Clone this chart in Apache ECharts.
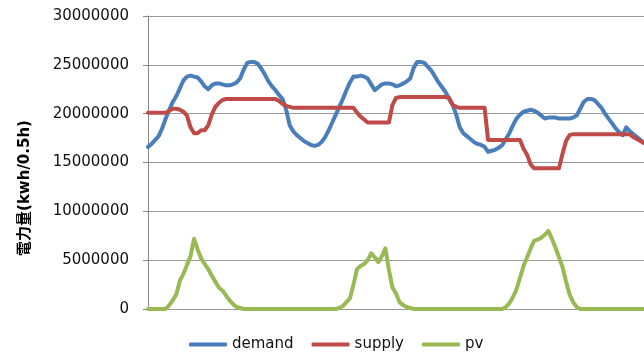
<!DOCTYPE html>
<html>
<head>
<meta charset="utf-8">
<script src="https://cdn.jsdelivr.net/npm/echarts@6/dist/echarts.min.js"></script>
<style>html,body{margin:0;padding:0;background:#fff;}#c{width:644px;height:354px;}</style>
</head>
<body>
<div id="c"></div>
<script>
const seriesNames = ['demand', 'supply', 'pv'];
const yTicks = [0, 5000000, 10000000, 15000000, 20000000, 25000000, 30000000];
const yTitle = '電力量(kwh/0.5h)';

const demand = [
 16.6e6,16.9e6,17.3e6,17.7e6,18.5e6,19.5e6,20.4e6,21.2e6,21.8e6,22.6e6,
 23.4e6,23.8e6,23.9e6,23.8e6,23.7e6,23.3e6,22.8e6,22.5e6,22.9e6,23.1e6,
 23.1e6,23.0e6,22.9e6,22.9e6,23.0e6,23.2e6,23.6e6,24.5e6,25.2e6,25.3e6,
 25.3e6,25.1e6,24.6e6,24.0e6,23.3e6,22.8e6,22.4e6,21.9e6,21.5e6,20.4e6,
 18.8e6,18.2e6,17.8e6,17.5e6,17.2e6,17.0e6,16.8e6,16.7e6,16.8e6,17.1e6,
 17.6e6,18.3e6,19.1e6,19.9e6,20.7e6,21.5e6,22.4e6,23.2e6,23.8e6,23.8e6,
 23.9e6,23.8e6,23.6e6,23.0e6,22.4e6,22.7e6,23.0e6,23.1e6,23.1e6,23.0e6,
 22.8e6,22.9e6,23.1e6,23.3e6,23.6e6,24.7e6,25.3e6,25.3e6,25.2e6,24.8e6,
 24.4e6,23.8e6,23.2e6,22.7e6,22.2e6,21.5e6,20.9e6,19.9e6,18.6e6,18.0e6,
 17.7e6,17.4e6,17.1e6,16.9e6,16.8e6,16.6e6,16.1e6,16.2e6,16.3e6,16.5e6,
 16.8e6,17.4e6,18.0e6,18.8e6,19.5e6,19.9e6,20.2e6,20.3e6,20.4e6,20.3e6,
 20.1e6,19.8e6,19.5e6,19.6e6,19.6e6,19.6e6,19.5e6,19.5e6,19.5e6,19.5e6,
 19.6e6,19.8e6,20.5e6,21.2e6,21.5e6,21.5e6,21.4e6,21.0e6,20.6e6,20.0e6,
 19.5e6,19.0e6,18.5e6,18.1e6,17.8e6,18.6e6,18.2e6,17.9e6,17.6e6,17.3e6,
 17.0e6
];

const supply = [
 20.1e6,20.1e6,20.1e6,20.1e6,20.1e6,20.1e6,20.3e6,20.5e6,20.5e6,20.4e6,
 20.2e6,19.8e6,18.6e6,18.0e6,18.0e6,18.3e6,18.3e6,18.8e6,19.9e6,20.7e6,
 21.1e6,21.4e6,21.5e6,21.5e6,21.5e6,21.5e6,21.5e6,21.5e6,21.5e6,21.5e6,
 21.5e6,21.5e6,21.5e6,21.5e6,21.5e6,21.5e6,21.5e6,21.3e6,21.0e6,20.8e6,
 20.7e6,20.6e6,20.6e6,20.6e6,20.6e6,20.6e6,20.6e6,20.6e6,20.6e6,20.6e6,
 20.6e6,20.6e6,20.6e6,20.6e6,20.6e6,20.6e6,20.6e6,20.6e6,20.6e6,20.1e6,
 19.7e6,19.4e6,19.1e6,19.1e6,19.1e6,19.1e6,19.1e6,19.1e6,19.1e6,20.9e6,
 21.6e6,21.7e6,21.7e6,21.7e6,21.7e6,21.7e6,21.7e6,21.7e6,21.7e6,21.7e6,
 21.7e6,21.7e6,21.7e6,21.7e6,21.7e6,21.6e6,20.9e6,20.7e6,20.6e6,20.6e6,
 20.6e6,20.6e6,20.6e6,20.6e6,20.6e6,20.6e6,17.3e6,17.3e6,17.3e6,17.3e6,
 17.3e6,17.3e6,17.3e6,17.3e6,17.3e6,17.3e6,16.4e6,15.8e6,14.8e6,14.4e6,
 14.4e6,14.4e6,14.4e6,14.4e6,14.4e6,14.4e6,14.4e6,15.9e6,17.2e6,17.8e6,
 17.9e6,17.9e6,17.9e6,17.9e6,17.9e6,17.9e6,17.9e6,17.9e6,17.9e6,17.9e6,
 17.9e6,17.9e6,17.9e6,17.9e6,17.9e6,17.9e6,17.9e6,17.6e6,17.4e6,17.2e6,
 17.0e6
];

const pv = [
 0,0,0,0,0,0,0.4e6,0.9e6,1.5e6,2.9e6,
 3.6e6,4.5e6,5.4e6,7.2e6,6.1e6,5.2e6,4.6e6,4.1e6,3.4e6,2.8e6,
 2.2e6,1.9e6,1.4e6,0.9e6,0.5e6,0.2e6,0.1e6,0,0,0,
 0,0,0,0,0,0,0,0,0,0,
 0,0,0,0,0,0,0,0,0,0,
 0,0,0,0,0.1e6,0.3e6,0.7e6,1.1e6,2.5e6,4.1e6,
 4.4e6,4.6e6,5.0e6,5.7e6,5.3e6,4.8e6,5.4e6,6.2e6,4.0e6,2.2e6,
 1.6e6,0.7e6,0.4e6,0.2e6,0.1e6,0,0,0,0,0,
 0,0,0,0,0,0,0,0,0,0,
 0,0,0,0,0,0,0,0,0,0,
 0,0.2e6,0.6e6,1.2e6,2.0e6,3.2e6,4.4e6,5.3e6,6.2e6,7.0e6,
 7.1e6,7.3e6,7.6e6,8.0e6,7.2e6,6.3e6,5.3e6,4.3e6,2.8e6,1.5e6,
 0.7e6,0.2e6,0,0,0,0,0,0,0,0,
 0,0,0,0,0,0,0,0,0,0,
 0
];

const colors = ['#4A7EBB', '#BE4B48', '#98B954'];
const chart = echarts.init(document.getElementById('c'), null, {renderer: 'canvas'});
const mk = (name, data, color) => ({
  name: name, type: 'line', data: data, symbol: 'none', smooth: false,
  lineStyle: {color: color, width: 4, cap: 'round', join: 'round'},
  itemStyle: {color: color}, animation: false
});
chart.setOption({
  animation: false,
  grid: {left: 148, right: 0, top: 16, bottom: 45, containLabel: false},
  xAxis: {
    type: 'category', boundaryGap: false,
    axisLine: {show: true, lineStyle: {color: '#999', width: 1}},
    axisTick: {show: false}, axisLabel: {show: false}, splitLine: {show: false}
  },
  yAxis: {
    type: 'value', min: yTicks[0], max: yTicks[yTicks.length - 1], interval: yTicks[1] - yTicks[0],
    axisLine: {show: true, lineStyle: {color: '#888', width: 1}},
    axisTick: {show: true, length: 5, lineStyle: {color: '#888'}},
    axisLabel: {margin: 19, color: '#111', fontSize: 15, fontFamily: 'DejaVu Sans',
      formatter: v => String(Math.round(v))},
    splitLine: {show: true, lineStyle: {color: '#9a9a9a', width: 1}}
  },
  legend: {
    data: seriesNames, left: 189, top: 337, padding: 0, itemGap: 18,
    icon: 'roundRect', itemWidth: 38, itemHeight: 4,
    textStyle: {fontSize: 15, fontFamily: 'DejaVu Sans', color: '#111'}
  },
  graphic: [{
    type: 'text', x: 25, y: 188, rotation: Math.PI / 2,
    style: {text: yTitle, fontSize: 15, fontWeight: 'bold',
      fontFamily: '"DejaVu Sans", "Noto Sans CJK JP"', fill: '#000',
      align: 'center', verticalAlign: 'middle'}
  }],
  series: [
    mk(seriesNames[0], demand, colors[0]),
    mk(seriesNames[1], supply, colors[1]),
    mk(seriesNames[2], pv, colors[2])
  ]
});
</script>
</body>
</html>
